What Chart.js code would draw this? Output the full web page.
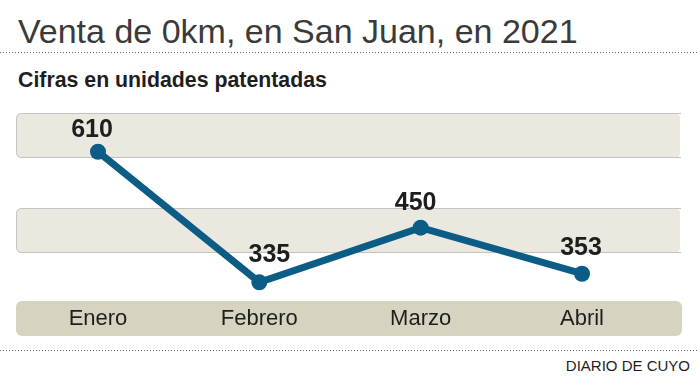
<!DOCTYPE html>
<html><head><meta charset="utf-8">
<script src="https://cdn.jsdelivr.net/npm/chart.js@4/dist/chart.umd.min.js"></script>
<style>
html,body{margin:0;padding:0;background:#fff;}
body{width:697px;height:382px;position:relative;overflow:hidden;font-family:"Liberation Sans",Arial,sans-serif;}
#title{position:absolute;left:18px;top:14px;font-size:34px;line-height:34px;color:#3a3a3a;white-space:nowrap;}
.dots{position:absolute;left:0;width:697px;height:1px;background:repeating-linear-gradient(to right,#666 0 1px,transparent 1px 3px);}
#sub{position:absolute;left:18px;top:70px;font-size:21.3px;line-height:21px;font-weight:bold;color:#1e1e1e;white-space:nowrap;}
#src{position:absolute;right:7px;top:358px;font-size:15px;line-height:15px;color:#1e1e1e;white-space:nowrap;}
#wrap{position:absolute;left:0;top:100px;width:697px;height:250px;}
</style>
</head><body>
<div id="title">Venta de 0km, en San Juan, en 2021</div>
<div class="dots" style="top:52px"></div>
<div id="sub">Cifras en unidades patentadas</div>
<div id="wrap"><canvas id="c" width="697" height="250"></canvas></div>
<div class="dots" style="top:350px"></div>
<div id="src">DIARIO DE CUYO</div>
<script>
const months = ['Enero', 'Febrero', 'Marzo', 'Abril'];
const units = [610, 335, 450, 353];
const valueLabels = ['610', '335', '450', '353'];

const BLUE = '#0b5d86';

const bandsPlugin = {
  id: 'bands',
  beforeDraw(chart, args, opts) {
    const ctx = chart.ctx;
    const y = chart.scales.y;
    const x = chart.scales.x;
    const L = opts.left, R = opts.right, r = 5;
    ctx.save();
    const step = 100;
    let idx = 0;
    for (let v = y.min; v < y.max; v += step, idx++) {
      if (idx % 2 === 0) continue;
      const top = Math.round(y.getPixelForValue(v + step)) + 4;
      const bot = Math.round(y.getPixelForValue(v)) + 2;
      ctx.fillStyle = opts.fill;
      ctx.beginPath();
      ctx.roundRect(L, top, R - 1 - L, bot - top, r);
      ctx.fill();
      ctx.strokeStyle = opts.stroke;
      ctx.lineWidth = 1;
      ctx.beginPath();
      ctx.moveTo(R, top + 0.5);
      ctx.lineTo(L + 0.5 + r, top + 0.5);
      ctx.arcTo(L + 0.5, top + 0.5, L + 0.5, top + 0.5 + r, r);
      ctx.lineTo(L + 0.5, bot - 0.5 - r);
      ctx.arcTo(L + 0.5, bot - 0.5, L + 0.5 + r, bot - 0.5, r);
      ctx.lineTo(R, bot - 0.5);
      ctx.stroke();
    }
    ctx.fillStyle = opts.axisFill;
    ctx.beginPath();
    ctx.roundRect(L, Math.round(x.top) + 2, R + 1 - L, 35, 6);
    ctx.fill();
    ctx.restore();
  }
};

const valueLabelPlugin = {
  id: 'valueLabels',
  afterDatasetsDraw(chart, args, opts) {
    const ctx = chart.ctx;
    const meta = chart.getDatasetMeta(0);
    ctx.save();
    ctx.font = 'bold 25px "Liberation Sans", Arial, sans-serif';
    ctx.fillStyle = '#1e1e1e';
    ctx.textAlign = 'center';
    ctx.textBaseline = 'alphabetic';
    meta.data.forEach((pt, i) => {
      const s = opts.shift[i] || [0, -17];
      ctx.fillText(valueLabels[i], pt.x + s[0], pt.y + s[1]);
    });
    ctx.restore();
  }
};

new Chart(document.getElementById('c'), {
  type: 'line',
  data: {
    labels: months,
    datasets: [{
      data: units,
      borderColor: BLUE,
      backgroundColor: BLUE,
      borderWidth: 7,
      pointRadius: 8,
      pointHoverRadius: 8,
      pointBackgroundColor: BLUE,
      pointBorderWidth: 0,
      tension: 0,
      fill: false,
      clip: false
    }]
  },
  options: {
    responsive: false,
    animation: false,
    events: [],
    devicePixelRatio: 1,
    layout: { padding: { left: 98, right: 115, top: 9, bottom: 11.7 } },
    plugins: {
      legend: { display: false },
      tooltip: { enabled: false },
      bands: { left: 16, right: 681, fill: '#ebe8df', stroke: '#c3c3c3', axisFill: '#d6d3c1' },
      valueLabels: { shift: [[-6, -15], [10, -20], [-5, -18], [-1, -19]] }
    },
    scales: {
      x: {
        type: 'category',
        offset: false,
        grid: { display: false, drawTicks: false },
        border: { display: false },
        ticks: { padding: 6.5, color: '#1e1e1e', autoSkip: false, maxRotation: 0,
                 font: { family: '"Liberation Sans", Arial, sans-serif', size: 22 } }
      },
      y: { display: false, min: 300, max: 700, ticks: { stepSize: 100 } }
    }
  },
  plugins: [bandsPlugin, valueLabelPlugin]
});
</script>
</body></html>
